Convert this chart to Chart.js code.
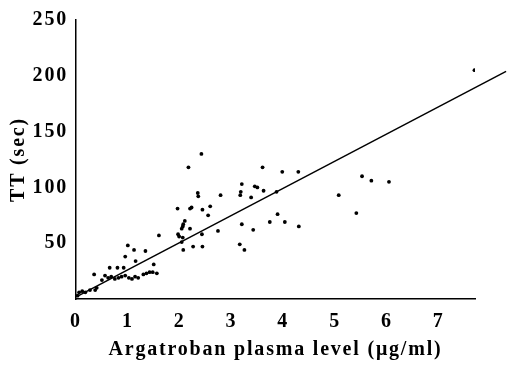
<!DOCTYPE html>
<html>
<head>
<meta charset="utf-8">
<script src="https://cdn.jsdelivr.net/npm/chart.js@4/dist/chart.umd.min.js"></script>
<style>
html,body{margin:0;padding:0;background:#fff;}
#wrap{width:507px;height:366px;position:relative;}
</style>
</head>
<body>
<div id="wrap"><canvas id="c" width="507" height="366"></canvas></div>
<script>
// Argatroban plasma level (µg/ml)
const levelX = [0.03,0.06,0.12,0.18,0.27,0.37,0.40,0.35,0.50,0.56,0.65,0.80,0.92,0.95,1.00,1.12,1.15,1.34,1.50,1.60,
  0.62,0.68,0.75,0.82,0.88,0.95,1.02,1.08,1.14,1.20,
  1.30,1.36,1.42,1.48,1.56,
  2.42,2.17,3.60,2.35,2.36,3.20,3.18,3.17,3.45,3.50,3.62,3.38,2.79,1.96,2.20,2.23,2.44,2.59,2.55,2.10,2.07,2.06,2.04,2.20,1.97,1.99,2.06,2.43,2.04,2.07,2.26,2.44,2.74,3.20,3.42,3.16,3.25,
  3.98,4.29,3.87,5.07,5.52,5.70,6.04,5.41,3.89,3.74,4.03,4.30,7.69];
// TT (sec)
const ttY = [3,6,7,6,8,8,10,22,17,21,28,28,28,38,48,44,34,43,31,57,
  19,20,18,19,20,21,19,18,20,19,
  22,23,24,24,23,
  130,118,118,95,92,103,96,93,101,100,97,91,93,81,81,82,80,83,75,70,67,65,63,63,58,56,55,58,51,44,47,47,61,67,62,49,44,
  114,114,96,93,110,106,105,77,76,69,69,65,205];
// Regression line endpoints
const fitX = [0.05, 8.3];
const fitY = [3, 204];
const xTicks = [0,1,2,3,4,5,6,7];
const yTicks = [50,100,150,200,250];

const pts = levelX.map((x,i)=>({x:x,y:ttY[i]}));
const fit = fitX.map((x,i)=>({x:x,y:fitY[i]}));
const font = {family:'"Liberation Serif", "Times New Roman", serif', weight:'bold', size:20};

const spacing = {
  id:'spacing',
  beforeDraw(chart){ chart.ctx.letterSpacing = '1.8px'; }
};

new Chart(document.getElementById('c'), {
  data:{datasets:[
    {type:'scatter', data:pts, backgroundColor:'#000', borderColor:'#000', pointRadius:1.9, pointHoverRadius:1.9, borderWidth:0},
    {type:'line', data:fit, borderColor:'#000', borderWidth:1.5, pointRadius:0, fill:false, clip:false}
  ]},
  options:{
    responsive:false, animation:false, events:[],
    layout:{padding:{top:20,right:32,left:0,bottom:0}},
    plugins:{legend:{display:false}, tooltip:{enabled:false}},
    scales:{
      x:{type:'linear', min:0, max:7.7,
        grid:{display:false, drawTicks:false}, border:{display:true, color:'#000', width:1.5},
        afterBuildTicks(s){ s.ticks = xTicks.map(v=>({value:v})); },
        afterFit(s){ s.height = 67; },
        ticks:{color:'#000', font:font, padding:11, maxRotation:0, autoSkip:false},
        title:{display:true, text:'Argatroban plasma level (μg/ml)', color:'#000', font:font, padding:{top:4,bottom:4}}
      },
      y:{type:'linear', min:0, max:250,
        grid:{display:false, drawTicks:false}, border:{display:true, color:'#000', width:1.5},
        afterBuildTicks(s){ s.ticks = yTicks.map(v=>({value:v})); },
        afterFit(s){ s.width = 76; },
        ticks:{color:'#000', font:font, padding:8},
        title:{display:true, text:'TT (sec)', color:'#000', font:font, padding:{top:7,bottom:2}}
      }
    }
  },
  plugins:[spacing]
});
</script>
</body>
</html>
